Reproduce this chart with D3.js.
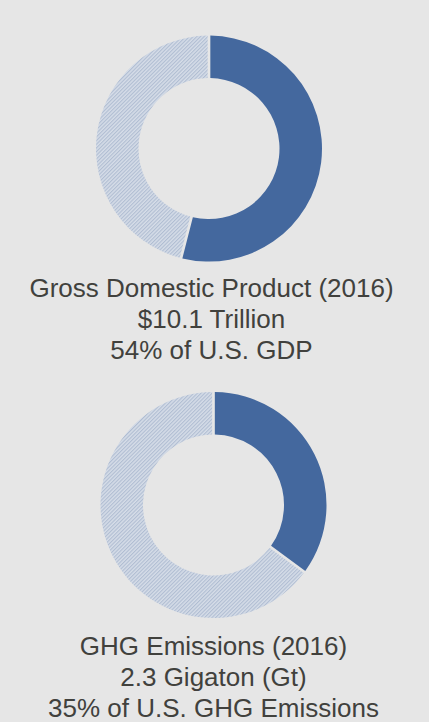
<!DOCTYPE html>
<html>
<head>
<meta charset="utf-8">
<script src="https://cdn.jsdelivr.net/npm/d3@7"></script>
<style>
  html, body { margin: 0; padding: 0; background: #e6e6e6; }
  svg { display: block; }
</style>
</head>
<body>
<svg id="chart" width="429" height="722"></svg>
<script>
// Share of the U.S. total (percent) for each panel
const panelNames = ["gdp", "ghg"];
const sharePercent = [54, 35];
const captionLines = [
  ["Gross Domestic Product (2016)", "$10.1 Trillion", "54% of U.S. GDP"],
  ["GHG Emissions (2016)", "2.3 Gigaton (Gt)", "35% of U.S. GHG Emissions"]
];
const sliceKeys = ["share", "rest"];

const svg = d3.select("#chart");
const W = 429, H = 722;

svg.append("rect").attr("width", W).attr("height", H).attr("fill", "#e6e6e6");

// Hatched fill for the remainder slice
const defs = svg.append("defs");
const pat = defs.append("pattern")
  .attr("id", "hatch")
  .attr("patternUnits", "userSpaceOnUse")
  .attr("width", 2.6).attr("height", 2.6)
  .attr("patternTransform", "rotate(45)");
pat.append("rect").attr("width", 2.6).attr("height", 2.6).attr("fill", "#d6dde8");
pat.append("rect").attr("width", 1.1).attr("height", 2.6).attr("fill", "#b0bdd2");

const colors = { share: "#44689e", rest: "url(#hatch)" };

const layout = [
  { cx: 209, cy: 148.6, textX: 211.5, textY: 297 },
  { cx: 213.5, cy: 505, textX: 213.5, textY: 655 }
];

const outerR = 113, innerR = 70.5;
const pie = d3.pie().sort(null).value(d => d.value).padAngle(0.02);
const arc = d3.arc().innerRadius(innerR).outerRadius(outerR);

panelNames.forEach((name, i) => {
  const pos = layout[i];
  const data = [
    { key: sliceKeys[0], value: sharePercent[i] },
    { key: sliceKeys[1], value: 100 - sharePercent[i] }
  ];
  const g = svg.append("g")
    .attr("class", "donut " + name)
    .attr("transform", `translate(${pos.cx},${pos.cy})`);
  g.selectAll("path")
    .data(pie(data))
    .join("path")
    .attr("d", arc)
    .attr("fill", d => colors[d.data.key]);

  const t = svg.append("text")
    .attr("class", "caption " + name)
    .attr("x", pos.textX)
    .attr("y", pos.textY)
    .attr("text-anchor", "middle")
    .attr("font-family", "Liberation Sans, Arial, sans-serif")
    .attr("font-size", 26)
    .attr("fill", "#41413d");
  captionLines[i].forEach((line, j) => {
    t.append("tspan")
      .attr("x", pos.textX)
      .attr("y", pos.textY + j * 31.2)
      .text(line);
  });
});
</script>
</body>
</html>
